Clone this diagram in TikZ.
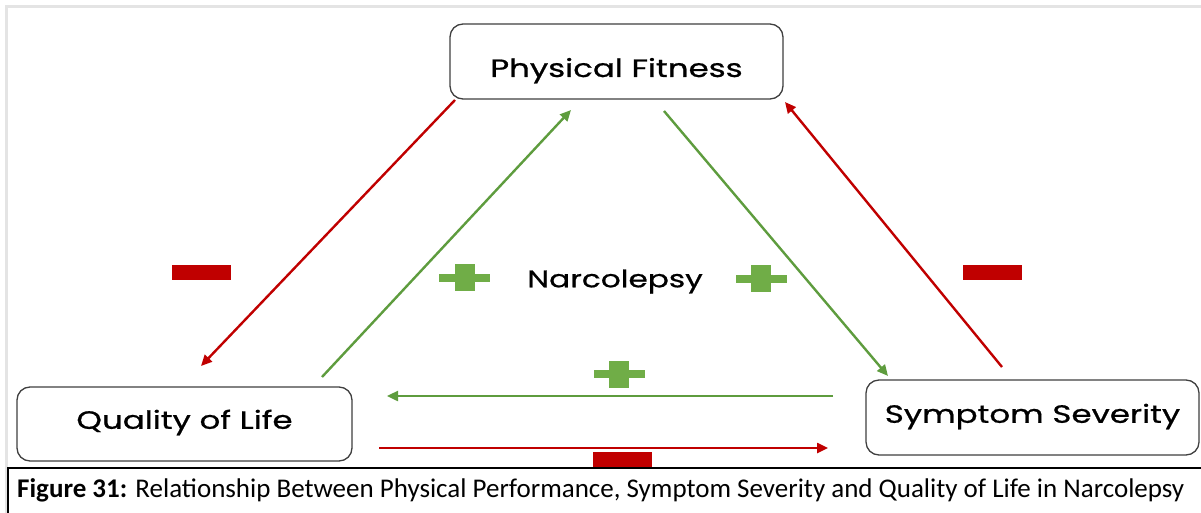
\documentclass[tikz,border=0pt]{standalone}
\usepackage{fontspec}
\usetikzlibrary{arrows.meta}
\newfontfamily\boxfont[FakeBold=0.7]{Poppins}
\newfontfamily\capfont{Carlito}
\definecolor{negred}{HTML}{C00000}
\definecolor{posgreen}{HTML}{70AD47}
\definecolor{linegreen}{HTML}{5E9C3E}
\definecolor{boxline}{HTML}{3F3F3F}
\definecolor{framegray}{HTML}{E4E4E4}
\newcommand{\wideword}[2]{\raisebox{#1}{\scalebox{1.3}[1]{#2}}}
\tikzset{
  conceptbox/.style={draw=boxline, line width=1.3pt, rounded corners=13pt, fill=white,
    minimum width=#1, minimum height=75pt, inner sep=0pt, text height=0pt, text depth=0pt,
    font=\boxfont\fontsize{25}{28}\selectfont},
  neglink/.style={draw=negred, line width=2.4pt, -{Triangle[length=11pt,width=10pt]}},
  poslink/.style={draw=linegreen, line width=2.4pt, -{Triangle[length=11pt,width=10pt]}},
  plussign/.pic={
    \fill[posgreen] (-25.5,-4) rectangle (25.5,4);
    \fill[posgreen] (-10,-13.5) rectangle (10,13.5);
  },
  minussign/.pic={
    \fill[negred] (-29.5,-7.5) rectangle (29.5,7.5);
  }
}
\begin{document}
\begin{tikzpicture}[x=1pt,y=-1pt]
\useasboundingbox (0,0) rectangle (1201,513);
% light frame
\draw[framegray, line width=3pt] (1201,6.5) -- (6.5,6.5) -- (6.5,513);

% boxes
\node[conceptbox=333pt] (pf) at (616.5,61.5) {\wideword{-15.5pt}{Physical Fitness}};
\node[conceptbox=335pt, minimum height=74pt] (qol) at (184.5,424) {\wideword{-4.8pt}{Quality of Life}};
\node[conceptbox=333pt] (ss) at (1032.5,417.5) {\wideword{-5.3pt}{Symptom Severity}};
\node[font=\boxfont\fontsize{24}{28}\selectfont, inner sep=0pt, text height=0pt, text depth=0pt] (narc) at (615,279) {\wideword{-8.3pt}{Narcolepsy}};

% arrow end points
\coordinate (r1s) at (455,100);  \coordinate (r1e) at (201,366);
\coordinate (g1s) at (322,377);  \coordinate (g1e) at (571,110);
\coordinate (g2s) at (664,111);  \coordinate (g2e) at (888,376);
\coordinate (r2s) at (1002,367); \coordinate (r2e) at (785,102);
\coordinate (g3s) at (833,396);  \coordinate (g3e) at (387,396);
\coordinate (r3s) at (379,448);  \coordinate (r3e) at (828,448);

\draw[neglink] (r1s) -- (r1e);
\draw[poslink] (g1s) -- (g1e);
\draw[poslink] (g2s) -- (g2e);
\draw[neglink] (r2s) -- (r2e);
\draw[poslink] (g3s) -- (g3e);
\draw[neglink] (r3s) -- (r3e);

% signs
\pic at (464.5,277.5) {plussign};
\pic at (761,278.5) {plussign};
\pic at (619,374) {plussign};
\pic at (201.5,272.5) {minussign};
\pic at (992.5,272.5) {minussign};
\fill[negred] (593,452) rectangle (652,469);

% caption
\fill[white] (8,468) rectangle (1201,513);
\draw[black, line width=1.5pt] (1201,468) -- (8,468) -- (8,513);
\node[anchor=west, font=\capfont\fontsize{27}{30}\selectfont, inner sep=0pt] (cap) at (17,490)
  {\textbf{Figure 31:} Relationship Between Physical Performance, Symptom Severity and Quality of Life in Narcolepsy};
\end{tikzpicture}
\end{document}
